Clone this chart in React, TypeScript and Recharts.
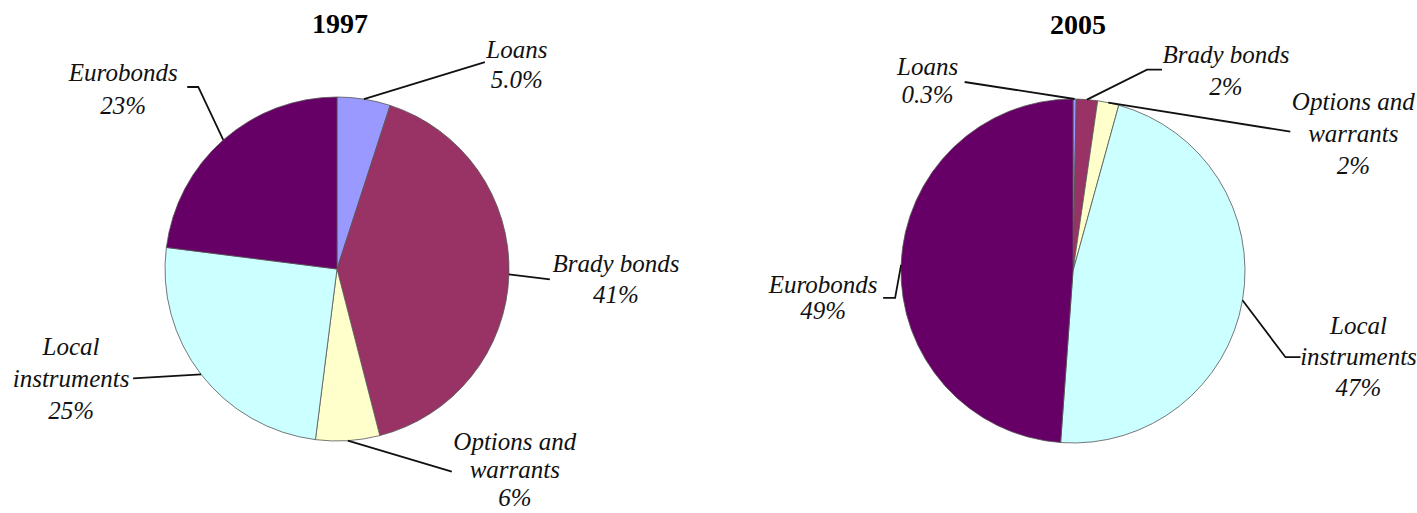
import React from 'react';
import { PieChart, Pie, Cell, Customized } from 'recharts';

// ---- data ----
const categories = ['Loans', 'Brady bonds', 'Options and warrants', 'Local instruments', 'Eurobonds'];
const categoryLines = [['Loans'], ['Brady bonds'], ['Options and', 'warrants'], ['Local', 'instruments'], ['Eurobonds']];
const values1997 = [5.0, 41, 6, 25, 23];
const values2005 = [0.3, 2, 2, 47, 49];
const pctLabels1997 = ['5.0%', '41%', '6%', '25%', '23%'];
const pctLabels2005 = ['0.3%', '2%', '2%', '47%', '49%'];
const titles = ['1997', '2005'];

// ---- styles / layout ----
const sliceColors = ['#9999ff', '#993366', '#ffffcc', '#ccffff', '#660066'];

type Layout = { ex?: number; ey?: number; lx: number; ly: number; tx: number; ty: number; lh: number };

// offsets relative to the slice's outer-arc midpoint
const layout1997: Layout[] = [
  { lx: 121, ly: -37, tx: 153, ty: -41, lh: 30 },
  { lx: 41, ly: 5, tx: 107, ty: -2, lh: 31 },
  { lx: 104, ly: 31, tx: 167, ty: 9, lh: 28 },
  { lx: -68, ly: 4, tx: -130, ty: -19, lh: 32 },
  { ex: -25, ey: -53, lx: -36, ly: -53, tx: -100, ty: -59, lh: 33 },
];
const layout2005: Layout[] = [
  { lx: -110, ly: -17, tx: -147, ty: -24, lh: 28 },
  { ex: 60, ey: -30, lx: 75, ly: -30, tx: 139, ty: -37, lh: 32 },
  { lx: 182, ly: 29, tx: 245, ty: 7, lh: 32 },
  { ex: 43, ey: 57, lx: 58, ly: 57, tx: 116, ty: 34, lh: 31 },
  { ex: -6, ey: 33, lx: -18, ly: 33, tx: -78, ty: 28, lh: 26 },
];

const data1997 = categories.map((name, i) => ({ name, value: values1997[i] }));
const data2005 = categories.map((name, i) => ({ name, value: values2005[i] }));

const FONT = '"Liberation Serif", "Times New Roman", serif';
const RAD = Math.PI / 180;

const makeLabel = (layout: Layout[], pct: string[]) => (props: any) => {
  const { cx, cy, midAngle, outerRadius, index } = props;
  const ax = cx + outerRadius * Math.cos(-midAngle * RAD);
  const ay = cy + outerRadius * Math.sin(-midAngle * RAD);
  const L = layout[index];
  const pts: string[] = [`${ax},${ay}`];
  if (L.ex !== undefined && L.ey !== undefined) pts.push(`${ax + L.ex},${ay + L.ey}`);
  pts.push(`${ax + L.lx},${ay + L.ly}`);
  const lines = [...categoryLines[index], pct[index]];
  const tx = ax + L.tx;
  const ty = ay + L.ty;
  return (
    <g key={`lbl-${index}`}>
      <polyline points={pts.join(' ')} fill="none" stroke="#111" strokeWidth={1.8} />
      <text x={tx} y={ty} textAnchor="middle" fontFamily={FONT} fontStyle="italic" fontSize={25} fill="#111">
        {lines.map((l, i) => (
          <tspan key={i} x={tx} dy={i === 0 ? 0 : L.lh}>
            {l}
          </tspan>
        ))}
      </text>
    </g>
  );
};

const Titles = () => (
  <g>
    <text x={340} y={33} textAnchor="middle" fontFamily={FONT} fontWeight="bold" fontSize={28} fill="#000">
      {titles[0]}
    </text>
    <text x={1078} y={34} textAnchor="middle" fontFamily={FONT} fontWeight="bold" fontSize={28} fill="#000">
      {titles[1]}
    </text>
  </g>
);

export default function App() {
  return (
    <div style={{ position: 'absolute', left: 0, top: 0, width: 1417, height: 513, background: '#fff' }}>
      <PieChart width={1417} height={513} margin={{ top: 0, right: 0, bottom: 0, left: 0 }}>
        <Pie
          data={data1997}
          dataKey="value"
          nameKey="name"
          cx={337}
          cy={269}
          outerRadius={172}
          startAngle={90}
          endAngle={-270}
          stroke="#555"
          strokeWidth={0.8}
          isAnimationActive={false}
          labelLine={false}
          label={makeLabel(layout1997, pctLabels1997)}
        >
          {data1997.map((d, i) => (
            <Cell key={d.name} fill={sliceColors[i]} />
          ))}
        </Pie>
        <Pie
          data={data2005}
          dataKey="value"
          nameKey="name"
          cx={1073}
          cy={271}
          outerRadius={172}
          startAngle={90}
          endAngle={-270}
          stroke="#555"
          strokeWidth={0.8}
          isAnimationActive={false}
          labelLine={false}
          label={makeLabel(layout2005, pctLabels2005)}
        >
          {data2005.map((d, i) => (
            <Cell key={d.name} fill={sliceColors[i]} />
          ))}
        </Pie>
        <Customized component={Titles} />
      </PieChart>
    </div>
  );
}
